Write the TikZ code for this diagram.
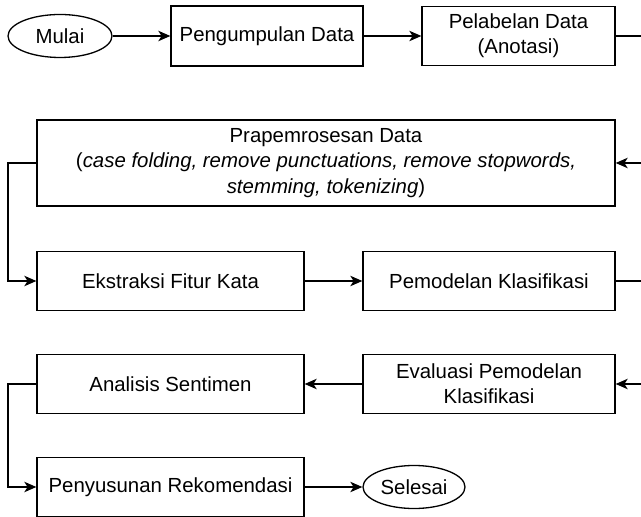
\documentclass[tikz,border=0pt]{standalone}
\usepackage{fontspec}
\setmainfont{Liberation Sans}
\usetikzlibrary{shapes.geometric, arrows, arrows.meta}
\tikzset{arrow/.style = {line width=0.65pt,->,>={Stealth[length=6pt,width=5.2pt,inset=1.6pt]}}}
\tikzset{process/.style = {rectangle, draw, line width=0.65pt, align=center, inner sep=0pt,
  font=\fontsize{10.2}{12.6}\selectfont}}
\tikzset{startstop/.style = {ellipse, draw, line width=0.65pt, inner sep=0pt,
  font=\fontsize{10.2}{12.6}\selectfont}}

\begin{document}
\begin{tikzpicture}[x=0.5pt,y=-0.5pt]
\useasboundingbox (0,0) rectangle (641,517);
\clip (0,0) rectangle (641,517);

\node[startstop, minimum width=52pt, minimum height=21.5pt] (mulai) at (60,36) {Mulai};
\node[process, minimum width=96pt, minimum height=30pt] (kumpul) at (267,36) {Pengumpulan Data};
\node[process, minimum width=96.5pt, minimum height=29.5pt] (label) at (518.5,36) {Pelabelan Data\\(Anotasi)};

\node[process, minimum width=289pt, minimum height=43pt] (prapros) at (326,163)
  {Prapemrosesan Data\\(\textit{case folding, remove punctuations, remove stopwords,}\\\textit{stemming, tokenizing})};

\node[process, minimum width=133.5pt, minimum height=29.5pt] (fitur) at (170.5,281) {Ekstraksi Fitur Kata};
\node[process, minimum width=126pt, minimum height=29.5pt] (model) at (489,281) {Pemodelan Klasifikasi};

\node[process, minimum width=126pt, minimum height=29.5pt] (eval) at (489,384) {Evaluasi Pemodelan\\Klasifikasi};
\node[process, minimum width=133.5pt, minimum height=29.5pt] (analisis) at (170.5,384) {Analisis Sentimen};

\node[process, minimum width=133.5pt, minimum height=29.5pt] (rekom) at (170.5,487) {Penyusunan Rekomendasi};
\node[startstop, minimum width=51pt, minimum height=21.5pt] (selesai) at (414,487) {Selesai};

\coordinate (kanan1) at (660,100);
\coordinate (kanan2) at (660,330);
\coordinate (kiri1) at (8,220);
\coordinate (kiri2) at (8,435);

\draw[arrow] (mulai) -- (kumpul);
\draw[arrow] (kumpul) -- (label);
\draw[arrow] (label.east) -| (kanan1) |- (prapros.east);
\draw[arrow] (prapros.west) -| (kiri1) |- (fitur.west);
\draw[arrow] (fitur) -- (model);
\draw[arrow] (model.east) -| (kanan2) |- (eval.east);
\draw[arrow] (eval) -- (analisis);
\draw[arrow] (analisis.west) -| (kiri2) |- (rekom.west);
\draw[arrow] (rekom) -- (selesai);

\end{tikzpicture}
\end{document}
